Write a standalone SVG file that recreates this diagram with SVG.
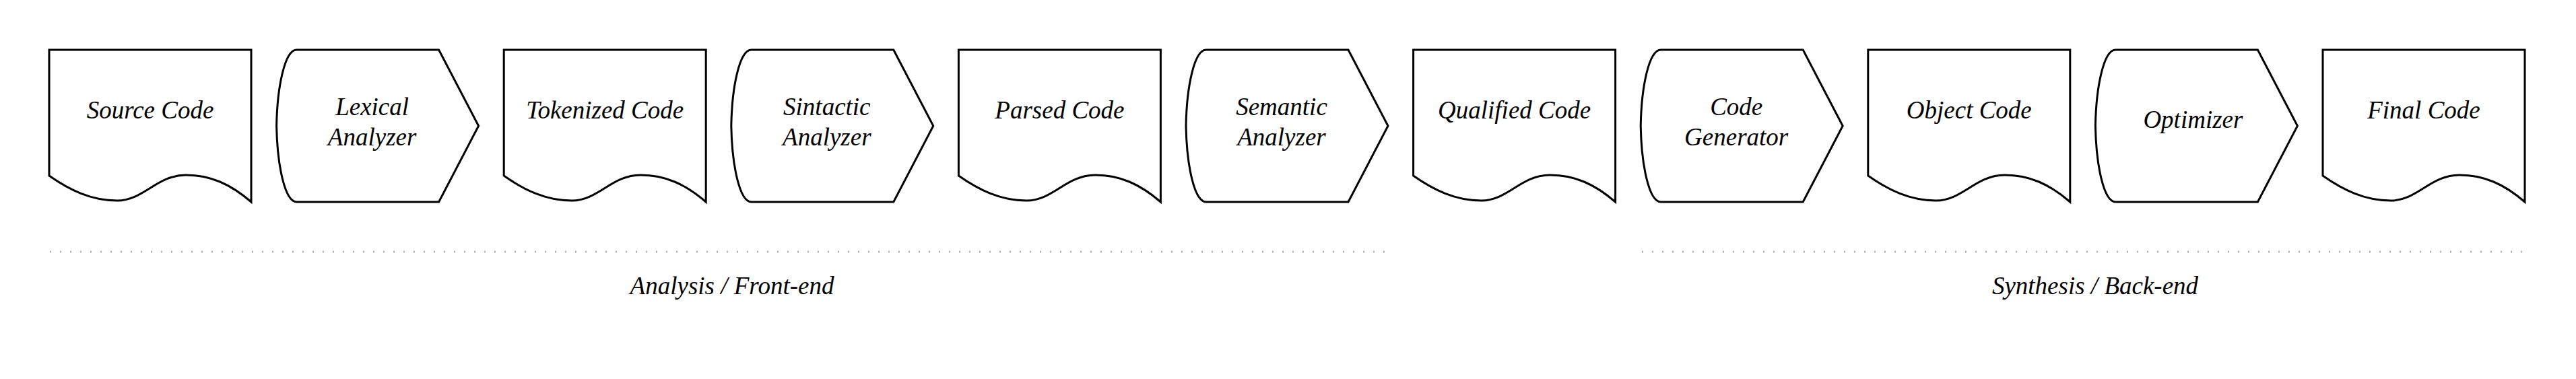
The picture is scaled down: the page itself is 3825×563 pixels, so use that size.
<svg xmlns="http://www.w3.org/2000/svg" width="3825" height="563" viewBox="0 0 3825 563">
<style>
.s{fill:#fff;stroke:#000;stroke-width:3;stroke-linejoin:miter}
.t{font-family:"Liberation Serif",serif;font-style:italic;font-size:37px;fill:#000;text-anchor:middle}
.d{stroke:#b3b3b3;stroke-width:3;stroke-dasharray:2 13;fill:none}
</style>
<defs>
<path id="doc" d="M0,0 H300 V226 C270,200 240,186 203,186 C160,186 140,224 101,224 C62,224 30,208 0,187 Z"/>
<path id="proc" d="M30,0 H241 L300,113 L241,226 H30 C12,226 1,170 0,113 C1,56 12,0 30,0 Z"/>
</defs>
<rect width="3825" height="563" fill="#fff"/>
<g id="n0" transform="translate(73,74)"><use href="#doc" class="s"/><text class="t" x="150" y="102">Source Code</text></g>
<g id="n1" transform="translate(410.6,74)"><use href="#proc" class="s"/><text class="t" x="142" y="97">Lexical</text><text class="t" x="142" y="142">Analyzer</text></g>
<g id="n2" transform="translate(748.2,74)"><use href="#doc" class="s"/><text class="t" x="150" y="102">Tokenized Code</text></g>
<g id="n3" transform="translate(1085.8,74)"><use href="#proc" class="s"/><text class="t" x="142" y="97">Sintactic</text><text class="t" x="142" y="142">Analyzer</text></g>
<g id="n4" transform="translate(1423.4,74)"><use href="#doc" class="s"/><text class="t" x="150" y="102">Parsed Code</text></g>
<g id="n5" transform="translate(1761,74)"><use href="#proc" class="s"/><text class="t" x="142" y="97">Semantic</text><text class="t" x="142" y="142">Analyzer</text></g>
<g id="n6" transform="translate(2098.6,74)"><use href="#doc" class="s"/><text class="t" x="150" y="102">Qualified Code</text></g>
<g id="n7" transform="translate(2436.2,74)"><use href="#proc" class="s"/><text class="t" x="142" y="97">Code</text><text class="t" x="142" y="142">Generator</text></g>
<g id="n8" transform="translate(2773.8,74)"><use href="#doc" class="s"/><text class="t" x="150" y="102">Object Code</text></g>
<g id="n9" transform="translate(3111.4,74)"><use href="#proc" class="s"/><text class="t" x="145" y="116">Optimizer</text></g>
<g id="n10" transform="translate(3449,74)"><use href="#doc" class="s"/><text class="t" x="150" y="102">Final Code</text></g>
<g id="connectors">
<line class="d" x1="74" y1="374" x2="2064" y2="374"/>
<line class="d" x1="2438" y1="374" x2="3750" y2="374"/>
</g>
<g id="labels">
<text class="t" x="1087" y="437">Analysis / Front-end</text>
<text class="t" x="3111" y="437">Synthesis / Back-end</text>
</g>
</svg>
